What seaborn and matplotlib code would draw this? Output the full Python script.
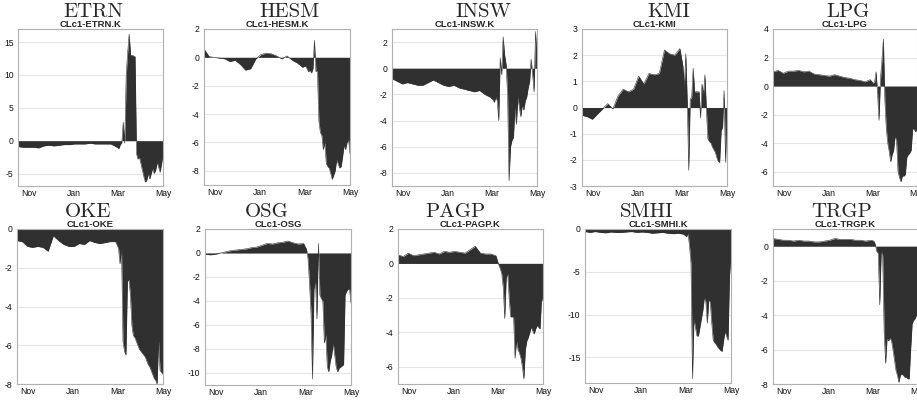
import matplotlib
matplotlib.use("Agg")
import matplotlib.dates as mdates
import matplotlib.pyplot as plt
import pandas as pd
import seaborn as sns

# weekly points before March, every second day from March on
dates = list(pd.date_range("2019-10-17", "2020-02-27", freq="7D")) + list(
    pd.date_range("2020-03-02", "2020-05-01", freq="2D")
)

tickers = ["ETRN", "HESM", "INSW", "KMI", "LPG", "OKE", "OSG", "PAGP", "SMHI", "TRGP"]
rics = ["CLc1-ETRN.K", "CLc1-HESM.K", "CLc1-INSW.K", "CLc1-KMI", "CLc1-LPG",
        "CLc1-OKE", "CLc1-OSG", "CLc1-PAGP.K", "CLc1-SMHI.K", "CLc1-TRGP.K"]

etrn = [-0.9, -1.0, -1.0, -1.0, -1.1, -0.8, -0.7, -0.8, -0.7, -0.6, -0.6, -0.5, -0.5, -0.5,
        -0.4, -0.5, -0.5, -0.5, -0.5, -0.9,
        -1.2, -0.6, -0.3, 2.8, -0.4, 10.0, 13.5, 16.2, 13.0, 13.0, 12.9, 12.8, -2.0, -2.8, -2.5,
        -3.5, -4.5, -5.5, -6.3, -6.0, -5.0, -5.8, -5.0, -4.2, -5.0, -4.5, -3.3, -4.0, -4.8, -3.5, -2.2]
hesm = [0.6, 0.05, 0.0, -0.05, -0.1, -0.3, -0.2, -0.5, -0.9, -0.8, -0.1, 0.2, 0.3, 0.25,
        0.1, -0.1, 0.1, -0.2, -0.4, -0.7,
        -0.6, -0.8, -1.0, -0.9, -1.1, -0.8, 1.2, -1.0, -0.9, -4.5, -5.3, -5.5, -6.5, -6.0, -7.5,
        -7.7, -7.8, -8.2, -8.6, -8.3, -8.0, -7.2, -7.5, -7.8, -7.7, -7.0, -6.2, -6.5, -6.0, -5.8, -6.8]
insw = [-0.8, -1.0, -1.2, -1.1, -1.2, -1.3, -1.3, -1.1, -0.9, -1.1, -1.3, -1.4, -1.3, -1.5,
        -1.6, -1.7, -1.8, -1.7, -2.0, -2.2,
        -2.4, -2.6, -2.2, -2.5, -4.0, 0.8, -0.5, 2.4, 1.0, 0.3, -2.0, -8.6, -6.0, -5.5, -5.3,
        -3.0, -4.3, -2.2, -3.0, -3.7, -2.8, -3.2, -2.5, -2.2, -1.5, -1.0, 0.7, -0.5, -1.8, 2.8, 0.8]
kmi = [-0.3, -0.35, -0.45, -0.25, -0.05, 0.15, -0.05, 0.45, 0.7, 0.6, 0.7, 1.2, 0.9, 1.3,
       1.25, 1.3, 2.2, 2.05, 2.0, 2.25,
       1.6, 0.8, 2.05, 0.2, -2.4, 0.3, 0.4, 1.5, 0.6, 0.6, 0.6, 0.6, -0.4, 0.9, 0.5,
       1.25, -0.1, -1.2, -1.3, -1.35, -1.5, -1.6, -1.7, -1.9, -2.05, -2.1, -0.9, -0.75, 0.65, -2.1, -0.2]
lpg = [1.0, 1.1, 0.9, 1.05, 1.05, 1.1, 1.0, 1.05, 0.85, 0.8, 0.75, 0.7, 0.8, 0.7,
       0.6, 0.55, 0.45, 0.4, 0.3, 0.45,
       0.2, 0.3, 1.0, -0.5, -2.4, 0.5, 1.8, 3.3, -1.0, -3.0, -4.0, -4.6, -5.3, -4.8, -4.5,
       -3.5, -3.8, -6.0, -6.4, -6.7, -6.3, -6.3, -6.2, -5.0, -4.8, -4.7, -4.5, -3.0, -3.0, -3.2, -3.0]
oke = [-0.6, -0.65, -0.9, -0.95, -0.9, -0.95, -1.15, -0.35, -0.6, -0.8, -0.9, -0.9, -0.75, -0.8,
       -0.6, -0.7, -0.75, -0.7, -0.65, -0.65,
       -1.0, -1.8, -1.0, -5.8, -6.3, -6.5, -2.7, -2.6, -3.4, -5.0, -5.5, -5.6, -5.8, -6.0, -6.2,
       -6.3, -6.4, -6.5, -6.6, -6.8, -7.0, -7.1, -7.3, -7.5, -7.7, -7.8, -8.0, -5.8, -7.3, -7.4, -7.5]
osg = [-0.1, -0.15, -0.1, 0.0, 0.1, 0.2, 0.25, 0.3, 0.35, 0.45, 0.5, 0.65, 0.8, 0.75,
       0.85, 0.9, 1.0, 0.85, 0.75, 0.8,
       0.3, -0.5, -2.5, -5.0, -10.5, -3.0, -2.3, -5.5, 0.8, -3.5, -3.8, -4.0, -7.5, -6.8, -9.5,
       -9.9, -9.0, -8.5, -7.5, -8.5, -9.5, -9.9, -9.6, -9.5, -9.4, -9.3, -3.5, -3.2, -3.0, -3.0, -4.2]
pagp = [0.5, 0.4, 0.6, 0.45, 0.5, 0.55, 0.6, 0.65, 0.55, 0.7, 0.65, 0.7, 0.65, 0.6,
        0.8, 1.0, 0.6, 0.55, 0.55, 0.45,
        -0.1, -0.3, -0.6, -1.4, -3.2, -0.8, -0.6, -2.0, -3.1, -3.1, -3.1, -5.5, -4.5, -5.0, -5.2,
        -5.5, -6.0, -6.7, -5.0, -4.5, -4.3, -4.0, -3.7, -3.9, -4.1, -3.8, -3.6, -3.7, -3.8, -2.0, -2.2]
smhi = [-0.3, -0.4, -0.3, -0.4, -0.45, -0.35, -0.4, -0.4, -0.35, -0.3, -0.4, -0.35, -0.4, -0.5,
        -0.45, -0.4, -0.5, -0.55, -0.5, -0.6,
        -0.9, -0.5, -2.0, -4.0, -17.5, -10.5, -11.5, -12.5, -12.5, -11.5, -10.5, -9.5, -8.0, -8.5, -11.0,
        -8.3, -8.5, -11.0, -13.0, -13.3, -13.5, -13.8, -14.0, -14.2, -14.3, -13.0, -12.0, -12.5, -13.0, -5.5, -3.0]
trgp = [0.45, 0.4, 0.35, 0.35, 0.3, 0.35, 0.3, 0.3, 0.25, 0.25, 0.3, 0.35, 0.45, 0.4,
        0.4, 0.4, 0.35, 0.35, 0.3, 0.35,
        0.3, 0.1, -0.3, -0.4, -3.4, -0.3, -0.5, -5.0, -6.8, -5.3, -5.5, -5.3, -5.5, -6.0, -6.6,
        -7.2, -7.5, -7.9, -7.5, -7.4, -7.5, -7.6, -7.6, -7.7, -7.7, -6.0, -4.5, -4.3, -4.2, -4.0, -3.8]

series = [etrn, hesm, insw, kmi, lpg, oke, osg, pagp, smhi, trgp]
y_limits = [(-6.9, 17), (-9, 2), (-9, 3), (-3, 3), (-7, 4),
            (-8, 0), (-11, 2), (-7, 2), (-18, 0), (-8, 1)]
y_ticks = [range(-5, 16, 5), range(-8, 3, 2), range(-8, 3, 2), range(-3, 4, 1), range(-6, 5, 2),
           range(-8, 1, 2), range(-10, 3, 2), range(-6, 3, 2), range(-15, 1, 5), range(-8, 1, 2)]

frame = pd.DataFrame(
    [(t, d, v) for t, vals in zip(tickers, series) for d, v in zip(dates, vals)],
    columns=["ticker", "date", "value"],
)

# panel boxes in pixels: left, top, right, bottom
boxes = [(18, 29, 163, 186), (204, 29, 350, 185), (392, 29, 537, 186), (582, 29, 727, 186),
         (773, 29, 917, 186), (17, 229, 163, 384), (205, 229, 351, 385), (398, 229, 543, 384),
         (585, 229, 731, 383), (773, 229, 918, 384)]
title_x = [93, 290, 483, 669, 848, 88, 267, 455, 647, 842]

sns.set_theme(style="whitegrid")
plt.rcParams["font.family"] = ["Liberation Sans", "DejaVu Sans"]
plt.rcParams["axes.unicode_minus"] = False

W, H = 917, 400
fig = plt.figure(figsize=(W / 100, H / 100), dpi=100)
fill_color = "#303030"

for i, ticker in enumerate(tickers):
    l, t, r, b = boxes[i]
    ax = fig.add_axes([l / W, 1 - b / H, (r - l) / W, (b - t) / H])
    sub = frame[frame["ticker"] == ticker]
    ax.fill_between(sub["date"], sub["value"], 0, color=fill_color, linewidth=0)
    sns.lineplot(data=sub, x="date", y="value", ax=ax, color=fill_color, linewidth=0.4)
    ax.set_xlim(pd.Timestamp("2019-10-17"), pd.Timestamp("2020-05-01"))
    ax.set_ylim(*y_limits[i])
    ax.set_yticks(list(y_ticks[i]))
    ax.xaxis.set_major_locator(mdates.MonthLocator(bymonth=[11, 1, 3, 5]))
    ax.xaxis.set_major_formatter(mdates.DateFormatter("%b"))
    ax.set_xlabel("")
    ax.set_ylabel("")
    ax.grid(axis="x", visible=False)
    ax.grid(axis="y", color="#e6e6e6", linewidth=0.8)
    ax.set_facecolor("white")
    for spine in ax.spines.values():
        spine.set_color("#b0b0b0")
        spine.set_linewidth(0.8)
    ax.tick_params(axis="both", labelsize=6.2, labelcolor="#111111", length=2, width=0.6,
                   color="#888888", pad=1.2)
    ax.tick_params(axis="x", direction="in", pad=2.5)
    ax.set_title(rics[i], fontsize=6.8, fontweight="bold", pad=1.2)
    fig.text(title_x[i] / W, 1 - (17 + 200 * (i // 5)) / H, ticker,
             ha="center", va="baseline", fontsize=15, family="cmr10")

fig.savefig("out.png", dpi=100)
